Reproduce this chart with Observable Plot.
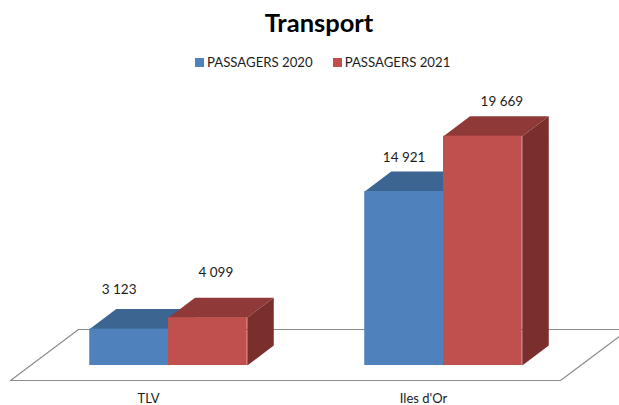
<!DOCTYPE html>
<html>
<head>
<meta charset="utf-8">
<script src="https://cdn.jsdelivr.net/npm/d3@7"></script>
<script src="https://cdn.jsdelivr.net/npm/@observablehq/plot@0.6"></script>
<style>
  html, body { margin: 0; padding: 0; background: #fff; overflow: hidden; }
  #head { height: 77px; position: relative; font-family: Lato, sans-serif; color: #000; }
  #title { position: absolute; left: 0; width: 638px; top: 6px; text-align: center; font-size: 25.5px; font-weight: 700; line-height: 32px; }
  #legend { position: absolute; top: 53px; left: 195px; display: flex; font-size: 13.2px; line-height: 18px; color: #1c1c1c; }
  .key { display: flex; align-items: center; margin-right: 20px; }
  .sw { width: 9px; height: 9px; margin-right: 3px; }
  svg { display: block; }
</style>
</head>
<body>
<div id="head">
  <div id="title">Transport</div>
  <div id="legend"></div>
</div>
<div id="chart"></div>
<script>
const categories = ["TLV", "Iles d'Or"];
const seriesNames = ["PASSAGERS 2020", "PASSAGERS 2021"];
const passagers2020 = [3123, 14921];
const passagers2021 = [4099, 19669];
const labels2020 = ["3 123", "14 921"];
const labels2021 = ["4 099", "19 669"];

// Appearance of each series: front, top and side faces
const palette = [
  {front: "#4f81bd", top: "#3d6591", side: "#3d6591"},
  {front: "#c0504d", top: "#8f3a38", side: "#7b2f2d"}
];
// Depth of the pseudo-3D extrusion and layout of the bars, in scale units
const barWidth = 0.2864;
const depthX = 0.0964;
const depthY = 1715;
const floor = {left: -0.5745, span: 2, back: 0.2473, low: -1286, high: 3087};
// Pixel nudges for the value labels [dx, dy] per series and category
const nudges = [[[-10, -39], [0, -34]], [[8, -45], [19, -34]]];

const series = [passagers2020, passagers2021];
const labels = [labels2020, labels2021];

const fronts = [], tops = [], sides = [], texts = [];
series.forEach((vals, s) => {
  vals.forEach((v, c) => {
    const x1 = c + (s - 1) * barWidth, x2 = x1 + barWidth;
    fronts.push({s, x1, x2, v});
    [[x1, v], [x2, v], [x2 + depthX, v + depthY], [x1 + depthX, v + depthY]]
      .forEach(([x, y]) => tops.push({s, id: `${s}-${c}`, x, y}));
    [[x2, 0], [x2, v], [x2 + depthX, v + depthY], [x2 + depthX, depthY]]
      .forEach(([x, y]) => sides.push({s, id: `${s}-${c}`, x, y}));
    texts.push({x: (x1 + x2) / 2, v, text: labels[s][c], dx: nudges[s][c][0], dy: nudges[s][c][1]});
  });
});

const floorPts = [
  {x: floor.left, y: floor.low},
  {x: floor.left + floor.span, y: floor.low},
  {x: floor.left + floor.span + floor.back, y: floor.high},
  {x: floor.left + floor.back, y: floor.high},
  {x: floor.left, y: floor.low}
];

const faceMarks = s => [
  Plot.line(tops.filter(d => d.s === s), {x: "x", y: "y", z: "id", fill: palette[s].top, stroke: null}),
  Plot.line(sides.filter(d => d.s === s), {x: "x", y: "y", z: "id", fill: palette[s].side, stroke: null}),
  Plot.rect(fronts.filter(d => d.s === s), {x1: "x1", x2: "x2", y1: 0, y2: "v", fill: palette[s].front})
];

const chart = Plot.plot({
  width: 619,
  height: 328,
  marginTop: 0, marginRight: 0, marginLeft: 0, marginBottom: 20,
  style: {background: "transparent", fontFamily: "Lato, sans-serif", fontSize: "13.5px", color: "#1c1c1c"},
  x: {domain: [-168 / 275, 451 / 275], range: [0, 619]},
  y: {domain: [-1715, 24700], axis: null},
  marks: [
    Plot.line(floorPts, {x: "x", y: "y", stroke: "#8c8c8c", strokeWidth: 1.2, clip: true}),
    ...faceMarks(0),
    ...faceMarks(1),
    ...texts.map(t => Plot.text([t], {x: "x", y: "v", text: "text", dx: t.dx, dy: t.dy, fontSize: 13.5, fill: "#1c1c1c"})),
    Plot.axisX({
      ticks: d3.range(categories.length),
      tickFormat: i => categories[i],
      tickSize: 0,
      tickPadding: 8,
      dx: -20,
      label: null,
      fontSize: 13
    })
  ]
});
document.getElementById("chart").append(chart);

const legend = document.getElementById("legend");
seriesNames.forEach((name, s) => {
  const key = document.createElement("div");
  key.className = "key";
  const sw = document.createElement("span");
  sw.className = "sw";
  sw.style.background = palette[s].front;
  const label = document.createElement("span");
  label.textContent = name;
  key.append(sw, label);
  legend.append(key);
});
</script>
</body>
</html>
